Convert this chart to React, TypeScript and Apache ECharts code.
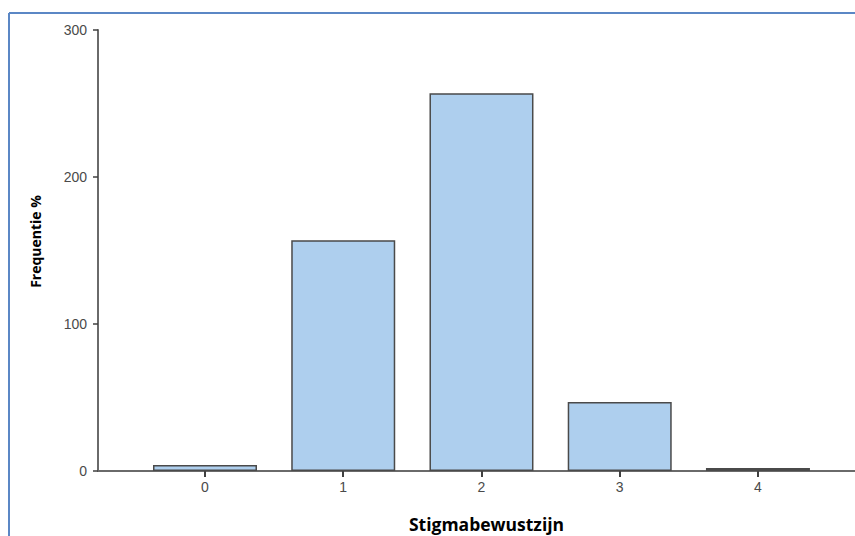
import React, { useEffect, useRef } from "react";
import * as echarts from "echarts";

const categories = [0, 1, 2, 3, 4];
const values = [4, 157, 257, 47, 2];
const yTicks = [0, 100, 200, 300];
const xTitle = "Stigmabewustzijn";
const yTitle = "Frequentie %";

export default function App() {
  const ref = useRef<HTMLDivElement>(null);
  useEffect(() => {
    if (!ref.current) return;
    const chart = echarts.init(ref.current, null, { renderer: "svg" });
    chart.setOption({
      animation: false,
      backgroundColor: "#ffffff",
      grid: { left: 98, top: 30, right: 0, bottom: 65, containLabel: false },
      xAxis: {
        type: "value",
        min: -0.774,
        max: 4.702,
        splitLine: { show: false },
        axisLine: { show: true, onZero: false, lineStyle: { color: "#6a6a6a", width: 2 } },
        axisTick: {
          show: true,
          customValues: categories,
          length: 6,
          lineStyle: { color: "#404040", width: 2 },
        },
        axisLabel: {
          customValues: categories,
          color: "#4a4a4a",
          fontFamily: "Liberation Sans, Arial, sans-serif",
          fontSize: 14,
          margin: 9,
        },
      },
      yAxis: {
        type: "value",
        min: 0,
        max: 300,
        interval: 100,
        splitLine: { show: false },
        axisLine: { show: true, onZero: false, lineStyle: { color: "#6a6a6a", width: 2 } },
        axisTick: { show: true, length: 5, lineStyle: { color: "#404040", width: 1.5 } },
        axisLabel: {
          color: "#4a4a4a",
          fontFamily: "Liberation Sans, Arial, sans-serif",
          fontSize: 14,
          margin: 11,
          formatter: (v: number) => (yTicks.includes(v) ? String(v) : ""),
        },
      },
      series: [
        {
          type: "bar",
          data: categories.map((c, i) => [c, values[i]]),
          barWidth: 104,
          itemStyle: {
            color: "#aecfee",
            borderColor: "#4a4a4a",
            borderWidth: 1.5,
          },
          z: 1,
        },
      ],
      graphic: [
        {
          type: "text",
          x: 486.5,
          y: 524,
          style: {
            text: xTitle,
            fill: "#000000",
            align: "center",
            verticalAlign: "middle",
            font: "bold 17.5px 'Open Sans', Lato, sans-serif",
          },
        },
        {
          type: "text",
          x: 35,
          y: 241.5,
          rotation: Math.PI / 2,
          style: {
            text: yTitle,
            fill: "#000000",
            align: "center",
            verticalAlign: "middle",
            font: "bold 14px 'Open Sans', Lato, sans-serif",
          },
        },
        {
          type: "line",
          shape: { x1: 9, y1: 13, x2: 855, y2: 13 },
          style: { stroke: "#5b87c5", lineWidth: 2 },
        },
        {
          type: "line",
          shape: { x1: 9, y1: 13, x2: 9, y2: 536 },
          style: { stroke: "#5b87c5", lineWidth: 2 },
        },
      ],
    });
    return () => chart.dispose();
  }, []);
  return (
    <div
      ref={ref}
      style={{ position: "absolute", left: 0, top: 0, width: 855, height: 536 }}
    />
  );
}
